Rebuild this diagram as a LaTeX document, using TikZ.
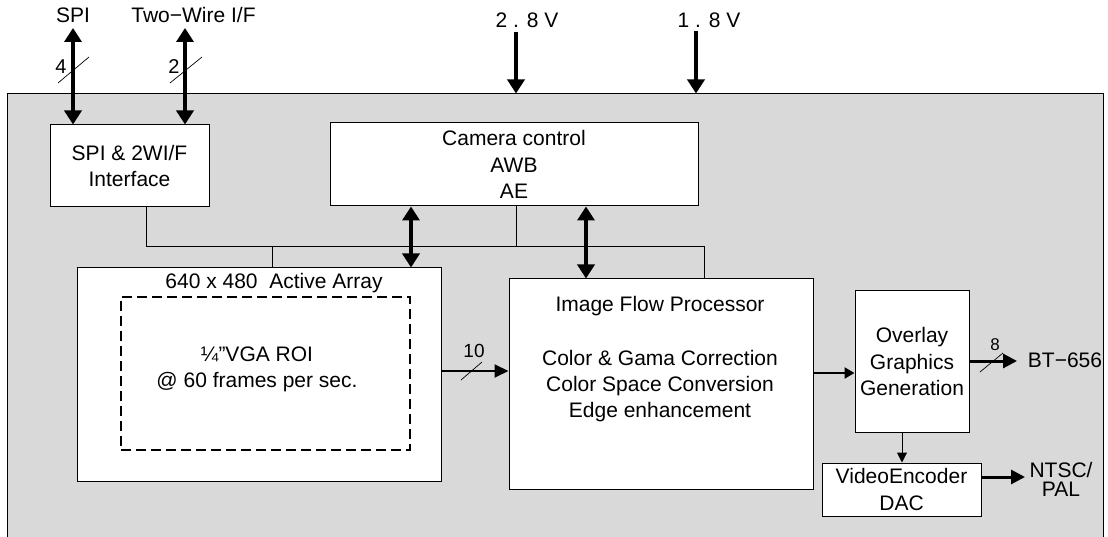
\documentclass[tikz,border=0pt]{standalone}
\usepackage{fontspec}
\setmainfont{Liberation Sans}
\usetikzlibrary{arrows.meta,calc}
\definecolor{chipgray}{RGB}{217,217,217}
\begin{document}
\begin{tikzpicture}[x=1pt,y=-1pt,
  chip/.style={draw, fill=chipgray, line width=1pt, inner sep=0pt},
  box/.style={draw, fill=white, line width=1pt, inner sep=0pt, align=center, font=\fontsize{21}{26.5}\selectfont},
  roi/.style={draw, line width=2.8pt, dash pattern=on 10pt off 5pt, inner sep=0pt},
  lbl/.style={font=\fontsize{21}{26}\selectfont, inner sep=0pt},
  bw/.style={font=\fontsize{19}{20}\selectfont, inner sep=0pt},
  slash/.style={line width=0.7pt},
  bus/.style={line width=1pt},
  bigarrow/.style={line width=3.5pt, -{Triangle[width=17pt,length=14pt]}},
  bidir/.style={line width=3.5pt, {Triangle[width=17pt,length=14pt]}-{Triangle[width=17pt,length=14pt]}},
  medarrow/.style={line width=2pt, -{Triangle[width=13pt,length=14pt]}},
  outarrow/.style={line width=3pt, -{Triangle[width=14pt,length=14pt]}},
  thinarrow/.style={line width=1pt, -{Triangle[width=10pt,length=10pt]}}
]
\useasboundingbox (0,0) rectangle (1108,537);
% chip outline
\node[chip, minimum width=1096pt, minimum height=451pt] (chip) at (555,319.5) {};
% blocks
\node[box, minimum width=159pt, minimum height=82pt] (spi) at (129.5,166) {SPI \& 2WI/F\\Interface};
\node[box, minimum width=368pt, minimum height=83pt] (cam) at (514,164.5) {Camera control\\AWB\\AE};
\node[box, minimum width=364pt, minimum height=213pt] (arr) at (259,374.5) {};
\node[lbl] (arrt) at (274,283) {640 x 480\ \ Active Array};
\node[roi, minimum width=289pt, minimum height=153pt] (roibox) at (265.5,373.5) {};
\node[lbl, align=center] (roit) at (257,369) {¼”VGA ROI\\@ 60 frames per sec.};
\node[box, minimum width=304pt, minimum height=210pt] (ifp) at (661,384) {};
\node[lbl] (ifpt) at (660,306) {Image Flow Processor};
\node[lbl, align=center] (ifpf) at (660,386) {Color \& Gama Correction\\Color Space Conversion\\Edge enhancement};
\node[box, minimum width=114pt, minimum height=141pt] (ovl) at (912,361.5) {Overlay\\Graphics\\Generation};
\node[box, minimum width=159pt, minimum height=53pt] (venc) at (901.5,489.5) {VideoEncoder\\DAC};
% outside labels
\node[lbl] (spil) at (73,15) {SPI};
\node[lbl] (twl) at (193.5,15) {Two−Wire I/F};
\node[lbl] (v28) at (527,20) {2 . 8 V};
\node[lbl] (v18) at (709,20) {1 . 8 V};
\node[lbl] (bt) at (1065,360) {BT−656};
\node[lbl, align=center, font=\fontsize{21}{19}\selectfont] (ntsc) at (1061,479) {NTSC/\\PAL};
% serial interfaces
\coordinate (spiTop) at (73,28);
\coordinate (twTop) at (185,28);
\draw[bidir] (spiTop) -- (spiTop |- spi.north);
\draw[bidir] (twTop) -- (twTop |- spi.north);
\draw[slash] (58,83) -- (89,57);
\node[bw, font=\fontsize{20}{20}\selectfont] (n4) at (61,67) {4};
\draw[slash] (170,83) -- (202,57);
\node[bw, font=\fontsize{20}{20}\selectfont] (n2) at (174,67) {2};
% power
\coordinate (p28) at (516,32);
\coordinate (p18) at (696,31);
\draw[bigarrow] (p28) -- (p28 |- chip.north);
\draw[bigarrow] (p18) -- (p18 |- chip.north);
% control bus
\coordinate (busL) at (146,247);
\coordinate (busR) at (704,247);
\coordinate (camTap) at (516,247);
\coordinate (arrTap) at (272,247);
\draw[bus] (spi.south -| busL) -- (busL) -- (busR) -- (busR |- ifp.north);
\draw[bus] (camTap |- cam.south) -- (camTap);
\draw[bus] (arrTap) -- (arrTap |- arr.north);
\coordinate (b1) at (411,247);
\coordinate (b2) at (586,247);
\draw[bidir] (b1 |- cam.south) -- (b1 |- arr.north);
\draw[bidir] (b2 |- cam.south) -- (b2 |- ifp.north);
% data path
\coordinate (yd) at (0,371);
\draw[medarrow] (arr.east |- yd) -- (ifp.west |- yd);
\draw[slash] (461,380) -- (482,362);
\node[bw] (n10) at (474,351) {10};
\coordinate (yo) at (0,373);
\draw[line width=2.2pt, -{Triangle[width=11pt,length=10pt]}] (ifp.east |- yo) -- (ovl.west |- yo);
\coordinate (btEnd) at (1017,361);
\draw[outarrow] (ovl.east |- btEnd) -- (btEnd);
\draw[slash] (980,372) -- (1003,353);
\node[bw, font=\fontsize{17}{18}\selectfont] (n8) at (995,345) {8};
\coordinate (vx) at (902,0);
\draw[thinarrow] (vx |- ovl.south) -- (vx |- venc.north);
\coordinate (ntEnd) at (1025,477);
\draw[outarrow] (venc.east |- ntEnd) -- (ntEnd);
\end{tikzpicture}
\end{document}
